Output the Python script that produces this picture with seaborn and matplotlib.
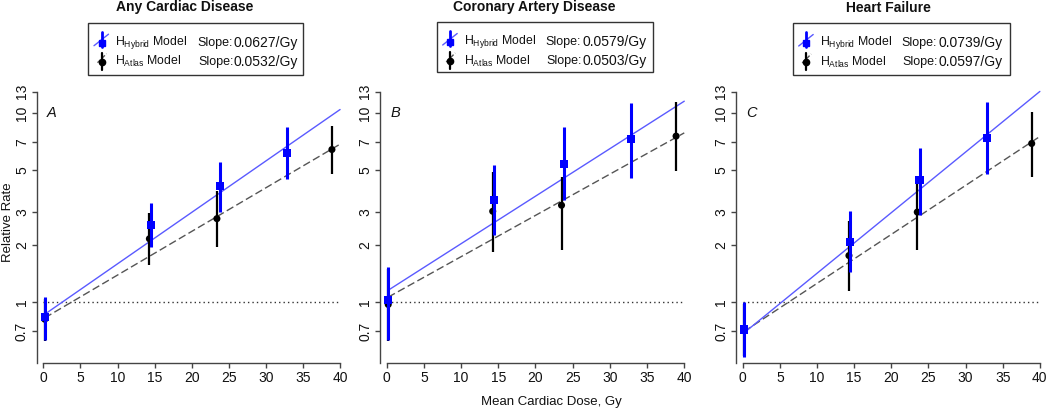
import numpy as np
import pandas as pd
import matplotlib
matplotlib.use("Agg")
import matplotlib.pyplot as plt
import seaborn as sns
from matplotlib.patches import Rectangle
from matplotlib.lines import Line2D

# ---------------- data ----------------
titles = ["Any Cardiac Disease", "Coronary Artery Disease", "Heart Failure"]
panel_letters = ["A", "B", "C"]

hyb_dose = [[0.2, 14.5, 23.8, 32.9], [0.2, 14.4, 23.8, 32.9], [0.2, 14.5, 23.8, 32.9]]
hyb_rr = [[0.83, 2.55, 4.10, 6.15], [1.02, 3.45, 5.40, 7.25], [0.715, 2.08, 4.41, 7.39]]
hyb_lo = [[0.625, 1.95, 2.99, 4.45], [0.63, 2.25, 3.48, 4.55], [0.51, 1.44, 2.90, 4.73]]
hyb_hi = [[1.06, 3.32, 5.51, 8.45], [1.54, 5.34, 8.39, 11.3], [1.00, 3.02, 6.54, 11.5]]

atl_dose = [[0.2, 14.3, 23.4, 38.9], [0.2, 14.25, 23.5, 38.9], [0.2, 14.3, 23.5, 38.9]]
atl_rr = [[0.81, 2.16, 2.76, 6.41], [0.97, 3.02, 3.25, 7.55], [0.71, 1.76, 2.99, 6.90]]
atl_lo = [[0.62, 1.57, 1.95, 4.78], [0.62, 1.84, 1.89, 4.92], [0.52, 1.14, 1.89, 4.59]]
atl_hi = [[1.04, 2.94, 3.85, 8.52], [1.50, 4.88, 4.59, 11.5], [0.98, 2.68, 4.63, 10.07]]

hyb_slope = [0.0627, 0.0579, 0.0739]
atl_slope = [0.0532, 0.0503, 0.0597]
hyb_icpt = [0.85, 1.14, 0.677]
atl_icpt = [0.815, 1.05, 0.69]
hyb_slope_txt = ["0.0627/Gy", "0.0579/Gy", "0.0739/Gy"]
atl_slope_txt = ["0.0532/Gy", "0.0503/Gy", "0.0597/Gy"]

fit_range = [0.2, 40]
x_ticks = [0, 5, 10, 15, 20, 25, 30, 35, 40]
y_ticks = [0.7, 1, 2, 3, 5, 7, 10, 13]
y_ticklabels = ["0.7", "1", "2", "3", "5", "7", "10", "13"]

# ---------------- style ----------------
sns.set_style("ticks")
plt.rcParams["font.family"] = ["Liberation Sans", "DejaVu Sans"]
plt.rcParams["mathtext.fontset"] = "custom"
plt.rcParams["mathtext.rm"] = "Liberation Sans"

W, H = 1050, 408
fig = plt.figure(figsize=(W / 100, H / 100), dpi=100)


def fx(px):
    return px / W


def fy(py):
    return 1 - py / H


BLUE = "#0000FF"
BLUE_LINE = "#5A5AFF"
GREY_LINE = "#555555"
AX_COL = "#444444"
TXT = "#111111"

ax_left = [37, 380.4, 736.4]
ax_right = [347.5, 691.7, 1047.3]
ax_top, ax_bot = 82, 363
ylo, yhi = 0.475, 14.6

legend_box = [(88, 22.7, 303, 75), (436.7, 22, 652.7, 72), (792.7, 23, 1010, 75)]
title_pos = [(185, 7), (534, 7), (888, 8)]

for i in range(3):
    ax = fig.add_axes([fx(ax_left[i]), fy(ax_bot), fx(ax_right[i] - ax_left[i]),
                       (ax_bot - ax_top) / H])
    ax.set_yscale("log")
    ax.set_xlim(-0.85, 41)
    ax.set_ylim(ylo, yhi)

    # reference line at RR = 1
    ax.plot([0, 40], [1, 1], color="#333333", lw=1.0, ls=(0, (1, 2.2)), zorder=1)

    # fitted lines
    xs = np.array(fit_range)
    df_a = pd.DataFrame({"x": xs, "y": atl_icpt[i] * np.exp(atl_slope[i] * xs)})
    df_h = pd.DataFrame({"x": xs, "y": hyb_icpt[i] * np.exp(hyb_slope[i] * xs)})
    sns.lineplot(data=df_a, x="x", y="y", ax=ax, color=GREY_LINE, lw=1.0, zorder=2)
    ax.lines[-1].set_dashes((5.5, 2.5))
    sns.lineplot(data=df_h, x="x", y="y", ax=ax, color=BLUE_LINE, lw=1.0, zorder=2)

    # Atlas points with CIs
    ax.vlines(atl_dose[i], atl_lo[i], atl_hi[i], colors="black", lw=1.6, zorder=3)
    sns.scatterplot(x=atl_dose[i], y=atl_rr[i], ax=ax, color="black", marker="o",
                    s=26, edgecolor="none", zorder=4)
    # Hybrid points with CIs
    ax.vlines(hyb_dose[i], hyb_lo[i], hyb_hi[i], colors=BLUE, lw=2.2, zorder=5)
    sns.scatterplot(x=hyb_dose[i], y=hyb_rr[i], ax=ax, color=BLUE, marker="s",
                    s=34, edgecolor="none", zorder=6)

    # axes styling (R-like)
    ax.set_xlabel("")
    ax.set_ylabel("")
    for s in ["top", "right"]:
        ax.spines[s].set_visible(False)
    ax.spines["left"].set_bounds(ylo, 13)
    ax.spines["bottom"].set_bounds(0, 40)
    for s in ["left", "bottom"]:
        ax.spines[s].set_color(AX_COL)
        ax.spines[s].set_linewidth(1.0)
    ax.set_xticks(x_ticks)
    ax.set_xticklabels([str(t) for t in x_ticks])
    ax.set_yticks(y_ticks)
    ax.set_yticklabels(y_ticklabels, rotation=90, va="center")
    ax.yaxis.set_minor_locator(matplotlib.ticker.NullLocator())
    ax.tick_params(axis="both", length=3.6, width=1.0, color=AX_COL,
                   labelsize=10, labelcolor=TXT)
    ax.tick_params(axis="y", pad=2.2)
    ax.tick_params(axis="x", pad=2.2)

    # panel letter
    ax.text(0.5, 10, panel_letters[i], fontsize=10.5, style="italic", ha="left",
            va="center", color=TXT)

    # title
    fig.text(fx(title_pos[i][0]), fy(title_pos[i][1]), titles[i], ha="center",
             va="center", fontsize=10, fontweight="bold", color=TXT)

    # legend box
    bx0, by0, bx1, by1 = legend_box[i]
    fig.patches.append(Rectangle((fx(bx0), fy(by1)), fx(bx1 - bx0), (by1 - by0) / H,
                                 transform=fig.transFigure, fill=False,
                                 edgecolor="#333333", lw=1.0))
    cx = bx0 + 13.5
    r1 = by0 + 20
    r2 = by0 + 39
    tf = fig.transFigure
    # row 1 handle (Hybrid)
    fig.add_artist(Line2D([fx(cx - 7.5), fx(cx + 7)], [fy(r1 + 3), fy(r1 - 8.5)],
                          transform=tf, color=BLUE_LINE, lw=1.0))
    fig.add_artist(Line2D([fx(cx), fx(cx)], [fy(r1 - 11), fy(r1 + 4)], transform=tf,
                          color=BLUE, lw=2.0))
    fig.add_artist(Line2D([fx(cx)], [fy(r1)], transform=tf, color=BLUE, marker="s",
                          ms=5, ls="none"))
    # row 2 handle (Atlas)
    fig.add_artist(Line2D([fx(cx - 4), fx(cx + 5)], [fy(r2 + 1), fy(r2 - 8)],
                          transform=tf, color=GREY_LINE, lw=1.0, dashes=(3, 1.5)))
    fig.add_artist(Line2D([fx(cx), fx(cx)], [fy(r2 - 9), fy(r2 + 8)], transform=tf,
                          color="black", lw=1.6))
    fig.add_artist(Line2D([fx(cx)], [fy(r2)], transform=tf, color="black", marker="o",
                          ms=4.5, ls="none"))
    # row texts
    fig.text(fx(bx0 + 27), fy(r1), r"H$_{\mathregular{Hybrid}}$ Model", ha="left",
             va="center", fontsize=8.8, color=TXT)
    fig.text(fx(bx0 + 27), fy(r2), r"H$_{\mathregular{Atlas}}$ Model", ha="left",
             va="center", fontsize=8.8, color=TXT)
    fig.text(fx(bx0 + 109), fy(r1), "Slope:", ha="left", va="center", fontsize=9,
             color=TXT)
    fig.text(fx(bx0 + 110), fy(r2), "Slope:", ha="left", va="center", fontsize=9,
             color=TXT)
    fig.text(fx(bx0 + 210), fy(r1), hyb_slope_txt[i], ha="right", va="center",
             fontsize=10, color=TXT)
    fig.text(fx(bx0 + 210), fy(r2), atl_slope_txt[i], ha="right", va="center",
             fontsize=10, color=TXT)

fig.text(fx(8), fy(222), "Relative Rate", rotation=90, ha="center", va="center",
         fontsize=9.5, color=TXT)
fig.text(fx(551.7), fy(401.5), "Mean Cardiac Dose, Gy", ha="center", va="center",
         fontsize=9.5, color=TXT)

fig.savefig("out.png", dpi=100)
